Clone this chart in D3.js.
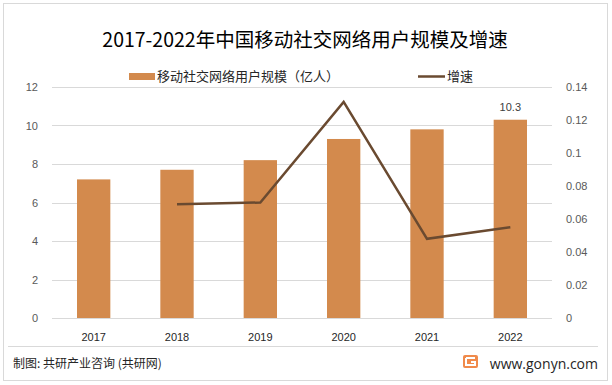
<!DOCTYPE html>
<html>
<head>
<meta charset="utf-8">
<script src="https://cdn.jsdelivr.net/npm/d3@7"></script>
<style>
  body { margin: 0; background: #fff; }
  text { font-family: "Noto Sans CJK SC", "Noto Sans", sans-serif; }
</style>
</head>
<body>
<div id="chart"></div>
<script>
const years = ['2017', '2018', '2019', '2020', '2021', '2022'];
const users = [7.2, 7.7, 8.2, 9.3, 9.8, 10.3];
const growthYears = ['2018', '2019', '2020', '2021', '2022'];
const growth = [0.069, 0.070, 0.131, 0.048, 0.055];
const leftTicks = [0, 2, 4, 6, 8, 10, 12];
const rightTicks = [0, 0.02, 0.04, 0.06, 0.08, 0.1, 0.12, 0.14];

const barColor = '#d38a4d';
const lineColor = '#6a4a30';

const width = 612;
const height = 385;
const plot = { left: 52, right: 552, top: 87, bottom: 318 };

const svg = d3.select('#chart').append('svg')
  .attr('width', width)
  .attr('height', height);

// frame
svg.append('rect')
  .attr('x', 3.5).attr('y', 3.5)
  .attr('width', 604).attr('height', 377)
  .attr('fill', '#fff')
  .attr('stroke', '#d9d9d9');

const x = d3.scaleBand()
  .domain(years)
  .range([plot.left, plot.right])
  .paddingInner(0.6)
  .paddingOuter(0.3);

const yLeft = d3.scaleLinear().domain([0, 12]).range([plot.bottom, plot.top]);
const yRight = d3.scaleLinear().domain([0, 0.14]).range([plot.bottom, plot.top]);

// gridlines
svg.append('g')
  .selectAll('line')
  .data(leftTicks)
  .enter()
  .append('line')
    .attr('x1', plot.left)
    .attr('x2', plot.right)
    .attr('y1', d => Math.round(yLeft(d)) + 0.5)
    .attr('y2', d => Math.round(yLeft(d)) + 0.5)
    .attr('stroke', '#d9d9d9')
    .attr('stroke-width', 1);

// left axis
const leftAxis = svg.append('g')
  .attr('transform', `translate(${plot.left - 11},0)`)
  .call(d3.axisLeft(yLeft).tickValues(leftTicks).tickSize(0).tickFormat(d3.format('d')));
leftAxis.select('.domain').remove();
leftAxis.selectAll('text')
  .attr('fill', '#595959')
  .style('font-size', '11px')
  .style('font-family', '"Liberation Sans", Arial, sans-serif');

// right axis
const rightAxis = svg.append('g')
  .attr('transform', `translate(${plot.right + 11},0)`)
  .call(d3.axisRight(yRight).tickValues(rightTicks).tickSize(0).tickFormat(d => (d === 0 ? '0' : String(+d.toFixed(2)))));
rightAxis.select('.domain').remove();
rightAxis.selectAll('text')
  .attr('fill', '#595959')
  .style('font-size', '11px')
  .style('font-family', '"Liberation Sans", Arial, sans-serif');

// bottom axis
const bottomAxis = svg.append('g')
  .attr('transform', `translate(0,${plot.bottom + 12})`)
  .call(d3.axisBottom(x).tickSize(0));
bottomAxis.select('.domain').remove();
bottomAxis.selectAll('text')
  .attr('fill', '#262626')
  .style('font-size', '11px')
  .style('font-family', '"Liberation Sans", Arial, sans-serif');

// bars
svg.append('g')
  .selectAll('rect')
  .data(years.map((year, i) => ({ year, value: users[i] })))
  .enter()
  .append('rect')
    .attr('x', d => x(d.year))
    .attr('y', d => yLeft(d.value))
    .attr('width', x.bandwidth())
    .attr('height', d => yLeft(0) - yLeft(d.value))
    .attr('fill', barColor);

// value label on last bar
const lastIndex = years.length - 1;
svg.append('text')
  .attr('x', x(years[lastIndex]) + x.bandwidth() / 2)
  .attr('y', yLeft(users[lastIndex]) - 9)
  .attr('text-anchor', 'middle')
  .attr('fill', '#404040')
  .style('font-size', '11px')
  .style('font-family', '"Liberation Sans", Arial, sans-serif')
  .text(users[lastIndex]);

// growth line
const line = d3.line()
  .x(d => x(d.year) + x.bandwidth() / 2)
  .y(d => yRight(d.value));

svg.append('path')
  .datum(growthYears.map((year, i) => ({ year, value: growth[i] })))
  .attr('d', line)
  .attr('fill', 'none')
  .attr('stroke', lineColor)
  .attr('stroke-width', 2.5)
  .attr('stroke-linejoin', 'miter');

// title
svg.append('text')
  .attr('x', 305)
  .attr('y', 47)
  .attr('text-anchor', 'middle')
  .attr('fill', '#000')
  .style('font-size', '19.5px')
  .text('2017-2022年中国移动社交网络用户规模及增速');

// legend
const legend = svg.append('g');
legend.append('rect')
  .attr('x', 129).attr('y', 73)
  .attr('width', 26).attr('height', 7)
  .attr('fill', barColor);
legend.append('text')
  .attr('x', 157).attr('y', 81)
  .attr('fill', '#262626')
  .style('font-size', '13px')
  .text('移动社交网络用户规模（亿人）');
legend.append('line')
  .attr('x1', 418).attr('x2', 445)
  .attr('y1', 76.5).attr('y2', 76.5)
  .attr('stroke', lineColor)
  .attr('stroke-width', 2.5);
legend.append('text')
  .attr('x', 447).attr('y', 81)
  .attr('fill', '#262626')
  .style('font-size', '13px')
  .text('增速');

// footer
svg.append('line')
  .attr('x1', 8).attr('x2', 598)
  .attr('y1', 346.5).attr('y2', 346.5)
  .attr('stroke', '#d9d9d9');

svg.append('text')
  .attr('x', 13)
  .attr('y', 368)
  .attr('fill', '#262626')
  .style('font-size', '12px')
  .text('制图: 共研产业咨询 (共研网)');

const logo = svg.append('g').attr('transform', 'translate(463,355)');
logo.append('rect')
  .attr('width', 15).attr('height', 13).attr('rx', 2)
  .attr('fill', '#f08a4b');
logo.append('path')
  .attr('d', 'M3,3 H12 M3,3 V10 H12 V7 H8')
  .attr('fill', 'none')
  .attr('stroke', '#fff')
  .attr('stroke-width', 2);

svg.append('text')
  .attr('x', 598)
  .attr('y', 369)
  .attr('text-anchor', 'end')
  .attr('fill', '#262626')
  .style('font-size', '14px')
  .style('font-family', '"Open Sans", "Noto Sans", sans-serif')
  .text('www.gonyn.com');
</script>
</body>
</html>
